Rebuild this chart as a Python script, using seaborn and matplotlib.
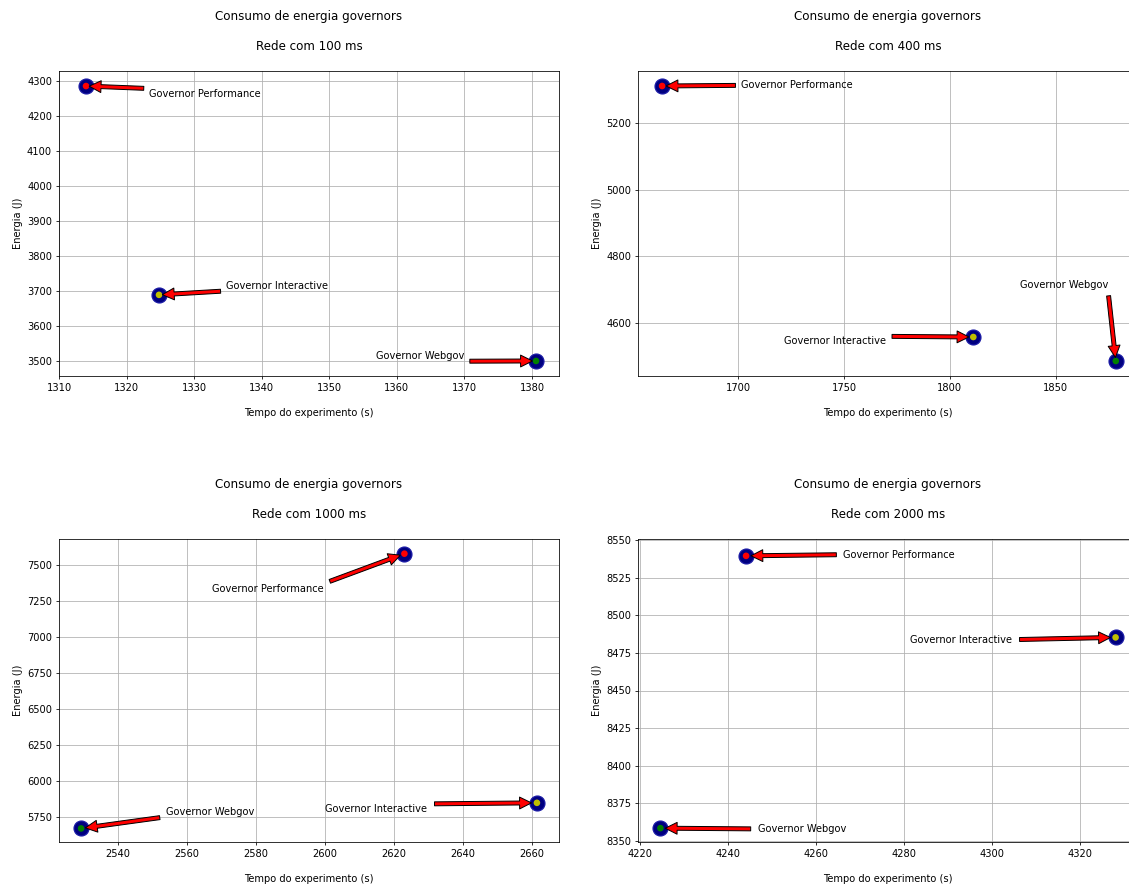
import matplotlib
matplotlib.use("Agg")
import matplotlib.pyplot as plt
from matplotlib.ticker import MultipleLocator
import pandas as pd
import seaborn as sns

# ---------- dados ----------
governors = ["Performance", "Interactive", "Webgov"]
cores = ["red", "y", "g"]

redes = ["100", "400", "1000", "2000"]

tempo_100 = [1314.0, 1324.8, 1380.6]
energia_100 = [4286, 3689, 3500]
tempo_400 = [1663.9, 1811.1, 1878.5]
energia_400 = [5311, 4558, 4486]
tempo_1000 = [2623.0, 2661.4, 2529.3]
energia_1000 = [7578, 5848, 5670]
tempo_2000 = [4244.1, 4328.2, 4224.6]
energia_2000 = [8539.5, 8485.3, 8358.5]

# posicao dos textos das anotacoes (x, y em dados)
texto_100 = [(1323.3, 4256), (1334.7, 3706), (1356.9, 3505)]
texto_400 = [(1701.4, 5304), (1721.4, 4536), (1833.0, 4704)]
texto_1000 = [(2567.3, 7315), (2600.0, 5785), (2553.9, 5765)]
texto_2000 = [(4266.2, 8538.3), (4281.5, 8481.8), (4246.7, 8356.0)]

limites_x = [(1310.0, 1384.0), (1652.5, 1889.0), (2522.9, 2667.8), (4219.5, 4333.3)]
limites_y = [(3457, 4329), (4441, 5356), (5576, 7680), (8349.3, 8550.7)]
passo_x = [10, 50, 20, 20]
passo_y = [100, 200, 250, 25]

tempos = [tempo_100, tempo_400, tempo_1000, tempo_2000]
energias = [energia_100, energia_400, energia_1000, energia_2000]
textos = [texto_100, texto_400, texto_1000, texto_2000]

# ---------- figura ----------
DPI = 71
fig = plt.figure(figsize=(1129 / DPI, 886 / DPI), dpi=DPI)

W, H = 1129, 886
caixas = [(59, 71, 500, 305), (638, 71, 500, 305),
          (59, 539, 500, 303), (638, 539, 500, 303)]

for i, rede in enumerate(redes):
    l, t, w, h = caixas[i]
    ax = fig.add_axes([l / W, 1 - (t + h) / H, w / W, h / H])
    df = pd.DataFrame({"tempo": tempos[i], "energia": energias[i],
                       "governor": governors})

    sns.scatterplot(data=df, x="tempo", y="energia", ax=ax, s=230,
                    color="#000080", edgecolor="#1a1aa6", linewidth=1.2,
                    legend=False, zorder=2)
    sns.scatterplot(data=df, x="tempo", y="energia", hue="governor",
                    palette=dict(zip(governors, cores)), ax=ax, s=45,
                    linewidth=0, legend=False, zorder=2.5)

    for j, gov in enumerate(governors):
        ax.annotate("Governor " + gov, xy=(tempos[i][j], energias[i][j]),
                    xytext=textos[i][j], textcoords="data", fontsize=10,
                    arrowprops=dict(facecolor="red", edgecolor="black",
                                    shrink=0.05, width=4, headwidth=12,
                                    headlength=12, linewidth=1))

    ax.set_xlim(limites_x[i])
    ax.set_ylim(limites_y[i])
    ax.xaxis.set_major_locator(MultipleLocator(passo_x[i]))
    ax.yaxis.set_major_locator(MultipleLocator(passo_y[i]))
    ax.grid(True, color="#b0b0b0", linewidth=0.8)
    ax.set_axisbelow(True)
    ax.set_title("Consumo de energia governors\n\nRede com %s ms\n" % rede,
                 fontsize=12)
    ax.set_xlabel("\nTempo do experimento (s)")
    ax.set_ylabel("Energia (J)")

fig.savefig("out.png", dpi=DPI)
plt.close()
